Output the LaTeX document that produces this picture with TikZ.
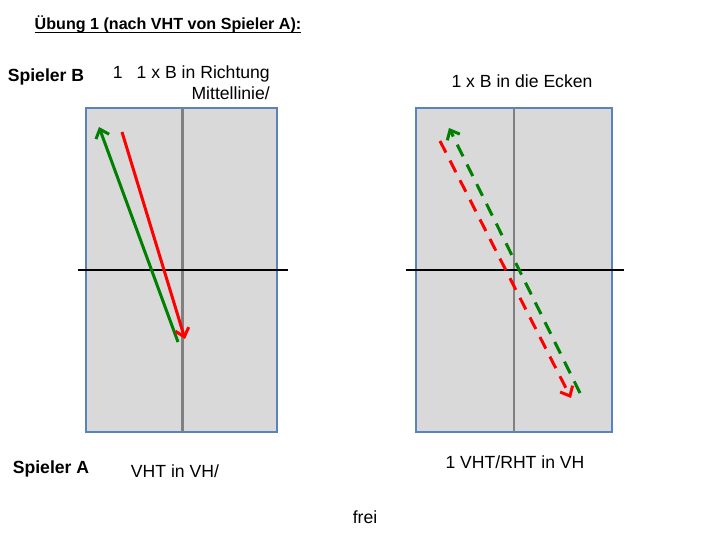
\documentclass[tikz,border=0pt]{standalone}
\usepackage{fontspec}
\setmainfont{Liberation Sans}
\usetikzlibrary{arrows.meta}

\definecolor{courtGray}{RGB}{217,217,217}
\definecolor{courtBlue}{RGB}{88,131,190}
\definecolor{midGray}{RGB}{128,128,128}
\definecolor{ballGreen}{RGB}{0,128,0}
\definecolor{ballRed}{RGB}{255,0,0}

\newcommand{\ballLineWidth}{3}
\newcommand{\courtTop}{108}
\newcommand{\courtBottom}{432}
\newcommand{\netY}{270}
\newcommand{\leftCourtX}{86}
\newcommand{\leftCourtW}{191}
\newcommand{\rightCourtX}{416}
\newcommand{\rightCourtW}{196}
\newcommand{\netOverhang}{10}

\tikzset{
  court/.style={fill=courtGray, draw=courtBlue, line width=1.5},
  midline/.style={draw=midGray, line width=2.2},
  netline/.style={draw=black, line width=1.5},
  ball/.style={line width=\ballLineWidth, -{Straight Barb[length=8, width=14, line width=3]}},
  ballDashed/.style={ball, dash pattern=on 13 off 9},
  label/.style={font=\fontsize{17.6}{21}\selectfont, inner sep=0, anchor=base},
  player/.style={label, font=\fontsize{17.6}{21}\selectfont\bfseries},
  heading/.style={label, font=\fontsize{16.1}{19}\selectfont\bfseries}
}

\begin{document}
\begin{tikzpicture}[x=1pt, y=-1pt]
        \useasboundingbox (0,0) rectangle (720,540);

        % Title
        \node[heading] (title) at (168,30) {Übung 1 (nach VHT von Spieler A):};
        \draw[line width=1.1] ([yshift=-2.2pt]title.base west) -- ([yshift=-2.2pt]title.base east);

        % Left court
        \draw[court] (\leftCourtX,\courtTop) rectangle ++(\leftCourtW,\courtBottom-\courtTop);
        \draw[midline] (\leftCourtX+\leftCourtW/2+1,\courtTop) -- (\leftCourtX+\leftCourtW/2+1,\courtBottom);
        \draw[netline] (\leftCourtX-8,\netY) -- (\leftCourtX+\leftCourtW+\netOverhang+1,\netY);

        % Right court
        \draw[court] (\rightCourtX,\courtTop) rectangle ++(\rightCourtW,\courtBottom-\courtTop);
        \draw[midline] (\rightCourtX+\rightCourtW/2,\courtTop) -- (\rightCourtX+\rightCourtW/2,\courtBottom);
        \draw[netline] (\rightCourtX-\netOverhang,\netY) -- (\rightCourtX+\rightCourtW+\netOverhang+2,\netY);

        % Ball paths, left
        \coordinate (greenLeftA) at (178,342);
        \coordinate (greenLeftB) at (99,127);
        \coordinate (redLeftA) at (122,132);
        \coordinate (redLeftB) at (185,339);
        \draw[ball, ballGreen] (greenLeftA) -- (greenLeftB);
        \draw[ball, ballRed] (redLeftA) -- (redLeftB);

        % Ball paths, right
        \coordinate (greenRightA) at (580,393);
        \coordinate (greenRightB) at (449,128);
        \coordinate (redRightA) at (440,141);
        \coordinate (redRightB) at (571,398);
        \draw[ballDashed, ballGreen] (greenRightA) -- (greenRightB);
        \draw[ballDashed, ballRed] (redRightA) -- (redRightB);

        % Player B
        \node[player] (spielerB) at (46,82) {Spieler B};
        \node[label, align=right, anchor=base east] (taskLeft) at (270,100) {1\hspace{14pt}1 x B in Richtung\\Mittellinie/};
        \node[label] (taskRight) at (522,88) {1 x B in die Ecken};

        % Player A
        \node[player] (spielerA) at (51,473) {Spieler A};
        \node[label] (strokeLeft) at (175,477) {VHT in VH/};
        \node[label] (strokeRight) at (515,468) {1 VHT/RHT in VH};
        \node[label] (free) at (365,523) {frei};
    \end{tikzpicture}
\end{document}
